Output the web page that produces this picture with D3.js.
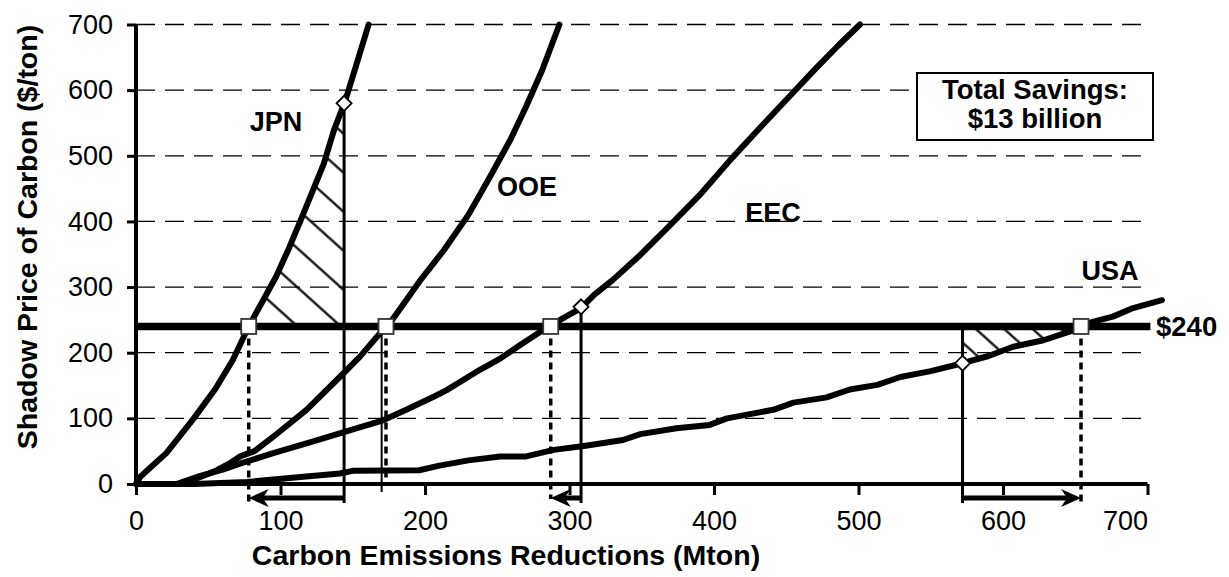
<!DOCTYPE html>
<html>
<head>
<meta charset="utf-8">
<script src="https://cdn.jsdelivr.net/npm/d3@7"></script>
<style>
  html, body { margin: 0; padding: 0; background: #fff; }
  svg { display: block; font-family: "Liberation Sans", Arial, Helvetica, sans-serif; }
</style>
</head>
<body>
<svg id="chart" width="1229" height="577"></svg>
<script>
// Axis ticks
const xTicks = [0, 100, 200, 300, 400, 500, 600, 700];
const yTicks = [0, 100, 200, 300, 400, 500, 600, 700];

// Marginal abatement cost curves: [reduction (Mton), shadow price ($/ton)]
const jpn = [[0,0],[3,11],[10,25],[21,47],[30,72],[40,100],[55,145],[67,189],[78,240],[88,280],[97,316],[106,360],[114,402],[122,445],[130,488],[137,539],[145,585],[152,635],[161,700]];
const ooe = [[30,0],[45,11],[56,21],[66,33],[72,42],[82,50],[95,72],[118,113],[141,163],[155,194],[169,230],[174,240],[187,280],[197,311],[213,356],[230,410],[245,468],[259,524],[270,575],[281,630],[293,700]];
const eec = [[28,0],[44,12],[60,22],[72,31],[95,47],[118,62],[141,77],[153,85],[171,97],[187,113],[206,133],[215,143],[238,174],[252,191],[264,209],[282,235],[295,252],[308,268],[317,288],[330,311],[349,349],[370,395],[390,440],[411,493],[432,543],[452,590],[470,632],[486,668],[501,700]];
const usa = [[0,0],[40,0],[77,3],[110,10],[141,16],[150,20],[196,21],[210,28],[230,36],[252,42],[270,42],[289,52],[310,58],[337,67],[349,76],[374,85],[397,90],[409,100],[441,113],[455,124],[478,132],[494,144],[513,151],[529,163],[550,172],[572,184],[590,195],[607,209],[628,219],[646,232],[654,240],[662,247],[676,255],[690,268],[710,280]];

// Common carbon price and the reductions it induces
const commonPrice = 240;
const regionNames = ["JPN", "OOE", "EEC", "USA"];
const tradeQ = [78, 173, 287, 654];   // reductions at the common price
const ownQ   = [144, 170, 308, 572];  // reductions without trading
const ownP   = [580, 240, 270, 184];  // shadow prices without trading

const savingsText = ["Total Savings:", "$13 billion"];

const svg = d3.select("#chart");
const x = d3.scaleLinear().domain([0, 700]).range([136, 1147.5]);
const y = d3.scaleLinear().domain([0, 700]).range([484, 24.5]);

const line = d3.line().x(d => x(d[0])).y(d => y(d[1]));

function priceAt(curve, q) {
  for (let i = 1; i < curve.length; i++) {
    const a = curve[i - 1], b = curve[i];
    if (q <= b[0]) return a[1] + (b[1] - a[1]) * (q - a[0]) / (b[0] - a[0]);
  }
  return curve[curve.length - 1][1];
}

// Hatch pattern definitions
const defs = svg.append("defs");
function hatch(id, spacing) {
  const p = defs.append("pattern")
    .attr("id", id).attr("patternUnits", "userSpaceOnUse")
    .attr("width", spacing).attr("height", 40)
    .attr("patternTransform", "rotate(-48)");
  p.append("line").attr("x1", spacing / 2).attr("x2", spacing / 2)
    .attr("y1", 0).attr("y2", 40)
    .attr("stroke", "#000").attr("stroke-width", 2.2);
}
hatch("hatchJ", 29);
hatch("hatchU", 19);

// Gridlines
svg.append("g").selectAll("line")
  .data(yTicks.filter(t => t > 0))
  .join("line")
  .attr("x1", x(0)).attr("x2", x(700))
  .attr("y1", d => y(d)).attr("y2", d => y(d))
  .attr("stroke", "#000").attr("stroke-width", 1.3)
  .attr("stroke-dasharray", "19,10");

// Hatched savings areas (JPN and USA)
const curves = [jpn, ooe, eec, usa];
[[0, "hatchJ"], [3, "hatchU"]].forEach(([i, pat]) => {
  const c = curves[i];
  const q1 = Math.min(tradeQ[i], ownQ[i]), q2 = Math.max(tradeQ[i], ownQ[i]);
  const pts = [[q1, commonPrice], [q1, priceAt(c, q1)]]
    .concat(c.filter(d => d[0] > q1 && d[0] < q2))
    .concat([[q2, priceAt(c, q2)], [q2, commonPrice]]);
  const clipId = "clip" + i;
  defs.append("clipPath").attr("id", clipId)
    .append("path").attr("d", line(pts) + "Z");
  svg.append("rect")
    .attr("x", 0).attr("y", 0).attr("width", 1229).attr("height", 577)
    .attr("fill", "url(#" + pat + ")")
    .attr("clip-path", "url(#" + clipId + ")");
});

// Axes
const xAxis = svg.append("g").attr("transform", `translate(0,${y(0)})`)
  .call(d3.axisBottom(x).tickValues(xTicks).tickSize(11).tickPadding(16).tickFormat(d3.format("d")));
const yAxis = svg.append("g").attr("transform", `translate(${x(0)},0)`)
  .call(d3.axisLeft(y).tickValues(yTicks).tickSize(9).tickPadding(14).tickFormat(d3.format("d")));
[xAxis, yAxis].forEach(g => {
  g.select(".domain").attr("stroke", "#000").attr("stroke-width", 4);
  g.selectAll(".tick line").attr("stroke", "#000").attr("stroke-width", 3);
  g.selectAll(".tick text").attr("fill", "#000")
    .style("font-size", "27px").style("font-family", "'Liberation Sans', Arial, sans-serif");
});
xAxis.select(".domain").attr("d", `M${x(0)},0H${x(700)}`);
yAxis.select(".domain").attr("d", `M0,${y(700)}V${y(0)}`);
// last x label is kept inside the plot's right edge
xAxis.selectAll(".tick text").filter(d => d === 700).attr("text-anchor", "end").attr("dx", 0);

// Vertical guide lines: dashed at trading reductions, solid at own reductions
const guideBottom = [503, 485, 499, 503];
const solidBottom = [503, 492, 503, 503];
tradeQ.forEach((q, i) => {
  svg.append("line")
    .attr("x1", x(q)).attr("x2", x(q))
    .attr("y1", y(commonPrice)).attr("y2", guideBottom[i])
    .attr("stroke", "#000").attr("stroke-width", 3.5)
    .attr("stroke-dasharray", "7,5");
});
ownQ.forEach((q, i) => {
  const top = Math.max(ownP[i], commonPrice);
  svg.append("line")
    .attr("x1", x(q)).attr("x2", x(q))
    .attr("y1", y(top)).attr("y2", solidBottom[i])
    .attr("stroke", "#000").attr("stroke-width", i === 1 ? 2 : 3);
});

// Cost curves
svg.append("g").selectAll("path")
  .data(curves)
  .join("path")
  .attr("d", line)
  .attr("fill", "none").attr("stroke", "#000")
  .attr("stroke-width", 6).attr("stroke-linejoin", "round").attr("stroke-linecap", "round");

// Common price line
svg.append("line")
  .attr("x1", x(0)).attr("x2", x(702))
  .attr("y1", y(commonPrice)).attr("y2", y(commonPrice))
  .attr("stroke", "#000").attr("stroke-width", 7.5);

// Arrows showing the change in reductions
const arrowY = 498;
tradeQ.forEach((q, i) => {
  const from = x(ownQ[i]), to = x(q);
  if (Math.abs(to - from) < 10) return;
  const dir = Math.sign(to - from);
  const head = 20;
  svg.append("line")
    .attr("x1", from).attr("x2", to - dir * head * 0.6)
    .attr("y1", arrowY).attr("y2", arrowY)
    .attr("stroke", "#000").attr("stroke-width", 5);
  svg.append("path")
    .attr("d", `M${to},${arrowY} L${to - dir * head},${arrowY - 9} L${to - dir * head * 0.7},${arrowY} L${to - dir * head},${arrowY + 9} Z`)
    .attr("fill", "#000");
});

// Markers: squares at the common price, diamonds at own prices
svg.append("g").selectAll("rect")
  .data(tradeQ)
  .join("rect")
  .attr("x", d => x(d) - 7.5).attr("y", y(commonPrice) - 7.5)
  .attr("width", 15).attr("height", 15)
  .attr("fill", "#fff").attr("stroke", "#333").attr("stroke-width", 1.8);
[0, 2, 3].forEach(i => {
  const cx = x(ownQ[i]), cy = y(ownP[i]);
  svg.append("path")
    .attr("d", `M${cx},${cy - 7.5} L${cx + 7.5},${cy} L${cx},${cy + 7.5} L${cx - 7.5},${cy} Z`)
    .attr("fill", "#fff").attr("stroke", "#000").attr("stroke-width", 1.8);
});

// Region labels
const labelPos = [[276, 131], [527, 196], [773, 222], [1110, 280]];
svg.append("g").selectAll("text")
  .data(regionNames)
  .join("text")
  .attr("x", (d, i) => labelPos[i][0]).attr("y", (d, i) => labelPos[i][1])
  .attr("text-anchor", "middle")
  .style("font-size", "27px").style("font-weight", "bold")
  .text(d => d);

// Price label
svg.append("text")
  .attr("x", 1156).attr("y", y(commonPrice) + 10)
  .style("font-size", "27.5px").style("font-weight", "bold")
  .text("$" + commonPrice);

// Savings box
svg.append("rect")
  .attr("x", 917).attr("y", 73).attr("width", 236).attr("height", 67)
  .attr("fill", "#fff").attr("stroke", "#000").attr("stroke-width", 2);
svg.append("g").selectAll("text")
  .data(savingsText)
  .join("text")
  .attr("x", 1035).attr("y", (d, i) => 99 + i * 29)
  .attr("text-anchor", "middle")
  .style("font-size", "27.5px").style("font-weight", "bold")
  .text(d => d);

// Axis titles
svg.append("text")
  .attr("x", 506).attr("y", 565)
  .attr("text-anchor", "middle")
  .style("font-size", "28.5px").style("font-weight", "bold")
  .text("Carbon Emissions Reductions (Mton)");
svg.append("text")
  .attr("transform", "translate(37,237) rotate(-90)")
  .attr("text-anchor", "middle")
  .style("font-size", "28.5px").style("font-weight", "bold")
  .text("Shadow Price of Carbon ($/ton)");
</script>
</body>
</html>
